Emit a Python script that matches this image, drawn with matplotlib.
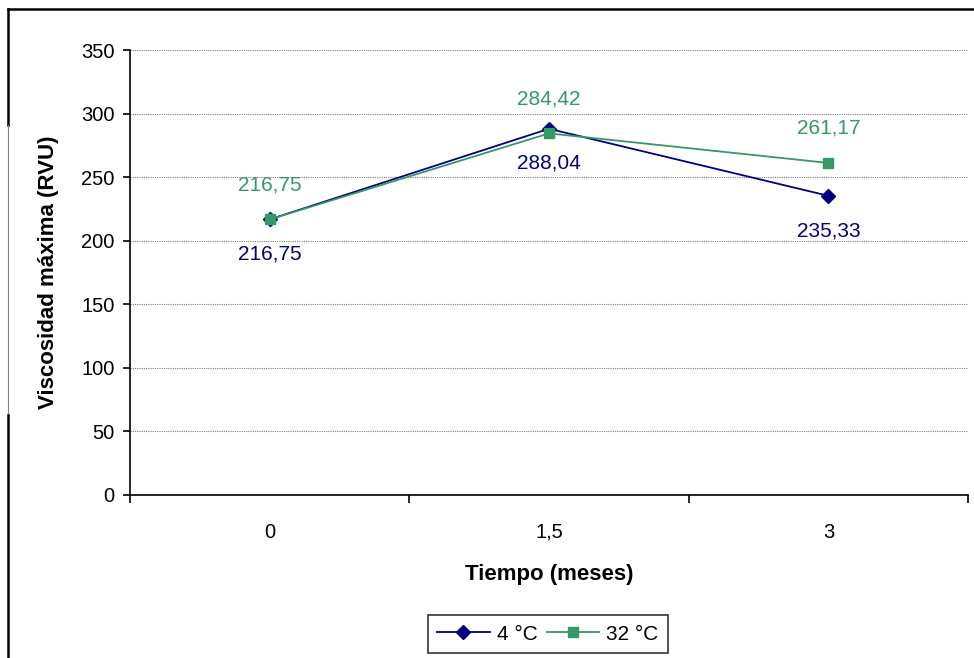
import matplotlib
matplotlib.use("Agg")
import matplotlib.pyplot as plt
from matplotlib.lines import Line2D

plt.rcParams['font.family'] = ['Liberation Sans', 'DejaVu Sans']

tiempos = ['0', '1,5', '3']
visc_4c = [216.75, 288.04, 235.33]
visc_32c = [216.75, 284.42, 261.17]
series = ['4 °C', '32 °C']

azul = '#000080'
verde = '#339966'

fig = plt.figure(figsize=(9.74, 6.58), dpi=100)
ax = fig.add_axes([130 / 974, 163 / 658, 838 / 974, 445 / 658])

x = [i + 0.5 for i in range(len(tiempos))]
ax.plot(x, visc_4c, color=azul, lw=1.3, marker='D', ms=7.5, label=series[0], zorder=3)
ax.plot(x, visc_32c, color=verde, lw=1.3, marker='s', ms=7.5, label=series[1], zorder=3)

# etiquetas de datos: 4 °C debajo, 32 °C encima
for xi, v in zip(x, visc_4c):
    ax.annotate(f'{v:.2f}'.replace('.', ','), (xi, v), xytext=(0, -25),
                textcoords='offset points', ha='center', va='center',
                color=azul, fontsize=15)
for xi, v in zip(x, visc_32c):
    ax.annotate(f'{v:.2f}'.replace('.', ','), (xi, v), xytext=(0, 25),
                textcoords='offset points', ha='center', va='center',
                color=verde, fontsize=15)

ax.set_xlim(0, 3)
ax.set_ylim(0, 350)
ax.set_yticks(range(0, 351, 50))
ax.set_xticks(range(0, 4))
ax.set_xticklabels([])
ax.set_xticks(x, minor=True)
ax.set_xticklabels(tiempos, minor=True)
ax.tick_params(axis='x', which='major', direction='out', length=6, width=1.2)
ax.tick_params(axis='x', which='minor', length=0, pad=20, labelsize=14.5)
ax.tick_params(axis='y', direction='out', length=5, width=1.2, pad=6, labelsize=14.5)

ax.grid(axis='y', color='#808080', ls=(0, (1, 1)), lw=0.8)
ax.set_axisbelow(True)
for s in ['top', 'right']:
    ax.spines[s].set_visible(False)
for s in ['left', 'bottom']:
    ax.spines[s].set_linewidth(1.2)

ax.set_xlabel('Tiempo (meses)', fontsize=16, fontweight='bold', labelpad=16)
ax.set_ylabel('Viscosidad máxima (RVU)', fontsize=16, fontweight='bold', labelpad=16)

leg = fig.legend(loc='center', bbox_to_anchor=(548 / 974, 1 - 634 / 658),
                 bbox_transform=fig.transFigure, ncol=2,
                 fontsize=15, frameon=True, fancybox=False, edgecolor='black',
                 handlelength=2.5, handletextpad=0.35, columnspacing=0.45,
                 borderpad=0.45, borderaxespad=0)
leg.get_frame().set_linewidth(1.2)

# marco exterior del gráfico
fig.add_artist(Line2D([8 / 974, 1], [1 - 9 / 658, 1 - 9 / 658], color='black', lw=1.8,
                      transform=fig.transFigure))
fig.add_artist(Line2D([8 / 974, 8 / 974], [1 - 9 / 658, 1 - 125 / 658], color='black', lw=1.8,
                      transform=fig.transFigure))
fig.add_artist(Line2D([8 / 974, 8 / 974], [1 - 125 / 658, 1 - 415 / 658], color='#808080', lw=0.8,
                      transform=fig.transFigure))
fig.add_artist(Line2D([8 / 974, 8 / 974], [1 - 415 / 658, 0], color='black', lw=1.8,
                      transform=fig.transFigure))

fig.savefig('out.png', dpi=100)
